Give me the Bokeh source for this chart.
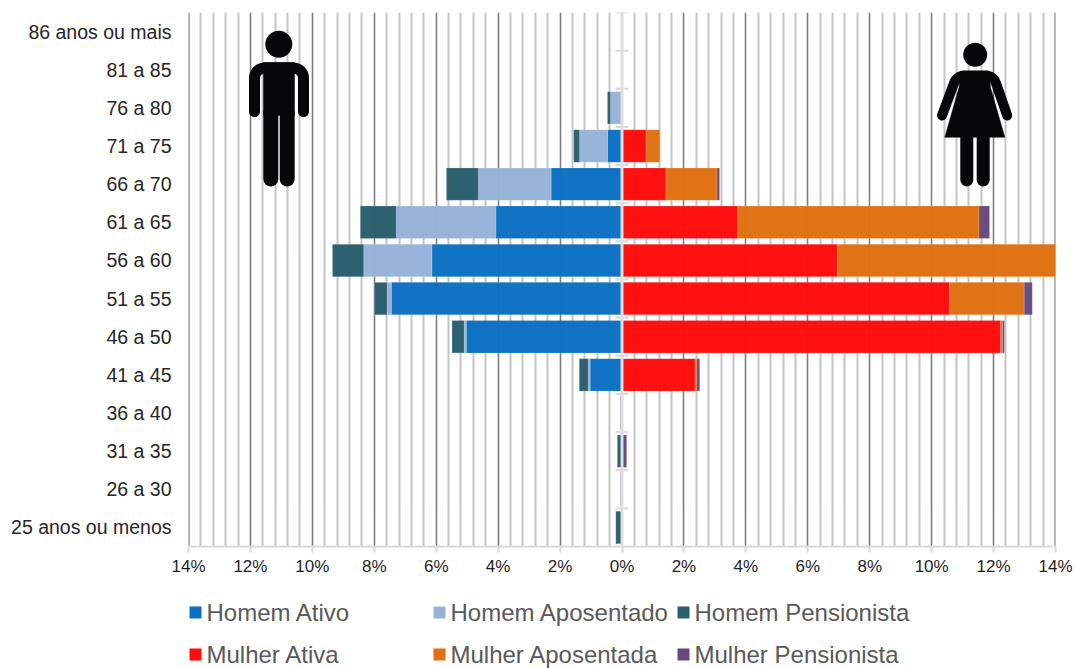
import math
from bokeh.plotting import figure
from bokeh.layouts import column
from bokeh.core.properties import value
from bokeh.models import FixedTicker, Range1d, ColumnDataSource, Span
from bokeh.embed import file_html
from bokeh.resources import INLINE

categories = ["25 anos ou menos", "26 a 30", "31 a 35", "36 a 40", "41 a 45", "46 a 50", "51 a 55",
              "56 a 60", "61 a 65", "66 a 70", "71 a 75", "76 a 80", "81 a 85", "86 anos ou mais"]
homem_ativo =       [0, 0, 0, 0, 1.03, 5.03, 7.45, 6.14, 4.07, 2.29, 0.47, 0, 0, 0]
homem_aposentado =  [0, 0, 0, 0, 0.06, 0.07, 0.14, 2.20, 3.22, 2.35, 0.90, 0.37, 0, 0]
homem_pensionista = [0.20, 0.05, 0.15, 0.05, 0.29, 0.39, 0.40, 1.01, 1.16, 1.03, 0.19, 0.10, 0, 0]
mulher_ativa =      [0, 0, 0, 0, 2.36, 12.23, 10.58, 6.96, 3.74, 1.42, 0.78, 0, 0, 0]
mulher_aposentada = [0, 0, 0, 0, 0.06, 0.06, 2.41, 7.05, 7.79, 1.65, 0.45, 0, 0, 0]
mulher_pensionista = [0, 0, 0.15, 0, 0.09, 0.06, 0.26, 0.03, 0.34, 0.08, 0, 0, 0, 0]
legend_labels = ["Homem Ativo", "Homem Aposentado", "Homem Pensionista",
                 "Mulher Ativa", "Mulher Aposentada", "Mulher Pensionista"]

colors = {"ha": "#0b70c2", "hp": "#97b3d8", "hn": "#2a5f6e", "ma": "#ff0c0c", "mp": "#e07012", "mn": "#66497f"}
FONT = "Liberation Sans"
W, H, SPLIT = 1075, 668, 584
X0, X1, Y0, Y1 = 188, 1055, 12, 546   # frame edges in page pixels
def dx(px): return (px - (X0 + X1) / 2) / ((X1 - X0) / 28)
def dy(py): return 14 - (py - Y0) / ((Y1 - Y0) / 14)

p = figure(width=W, height=SPLIT, output_backend="svg", toolbar_location=None,
           x_range=Range1d(-14, 14), y_range=Range1d(0, 14),
           min_border_left=X0, min_border_right=W - X1,
           min_border_top=Y0, min_border_bottom=SPLIT - Y1, outline_line_color=None)

# grid
major = [v for v in range(-14, 15, 2) if v != 0]
minor = [round(-14 + 0.4 * i, 1) for i in range(71) if (i % 5) != 0]
p.ygrid.visible = False
g = p.xgrid[0]
g.ticker = FixedTicker(ticks=major, minor_ticks=minor)
g.grid_line_color = "#7f7f7f"
g.grid_line_width = 1.6
g.minor_grid_line_color = "#c4c4c4"
g.minor_grid_line_width = 2
# the grid leaves out lines that fall on the range ends
for edge in (-14, 14):
    p.add_layout(Span(location=edge, dimension="height", line_color="#7f7f7f", line_width=2.2, level="underlay"))

# axes
xa = p.xaxis[0]
xa.ticker = FixedTicker(ticks=list(range(-14, 15, 2)))
xa.major_label_overrides = {v: f"{abs(v)}%" for v in range(-14, 15, 2)}
xa.axis_line_color = "#d9d9d9"
xa.axis_line_width = 2
xa.major_tick_line_color = "#d9d9d9"
xa.major_tick_line_width = 2
xa.major_tick_in = 0
xa.major_tick_out = 6
xa.minor_tick_line_color = None
xa.major_label_standoff = 4
xa.major_label_text_font = FONT
xa.major_label_text_font_size = "17px"
xa.major_label_text_color = "#1f1f1f"

ya = p.yaxis[0]
centers = [i + 0.5 for i in range(len(categories))]
ya.ticker = FixedTicker(ticks=centers)
ya.major_label_overrides = dict(zip(centers, categories))
ya.axis_line_color = None
ya.major_tick_line_color = None
ya.minor_tick_line_color = None
ya.major_tick_in = 0
ya.major_tick_out = 0
ya.major_label_standoff = 17
ya.major_label_text_font = FONT
ya.major_label_text_font_size = "19.5px"
ya.major_label_text_color = "#262626"

src = ColumnDataSource(dict(
    y=centers,
    ha=[-v for v in homem_ativo], hp=[-v for v in homem_aposentado], hn=[-v for v in homem_pensionista],
    ma=mulher_ativa, mp=mulher_aposentada, mn=mulher_pensionista))
kw = dict(y="y", height=0.85, source=src, fill_alpha=0.98, line_color="white", line_alpha=0.3, line_width=0.5)
men = p.hbar_stack(["ha", "hp", "hn"], color=None, fill_color=[colors[k] for k in ("ha", "hp", "hn")], **kw)
women = p.hbar_stack(["ma", "mp", "mn"], color=None, fill_color=[colors[k] for k in ("ma", "mp", "mn")], **kw)

# central axis and its band ticks
p.add_layout(Span(location=0, dimension="height", line_color="#dedede", line_width=3, level="overlay"))
edges = list(range(1, 15))
p.segment(x0=[dx(615)] * len(edges), x1=[dx(628)] * len(edges), y0=edges, y1=edges,
          line_color="#d9d9d9", line_width=2)

# silhouettes
INK = "#060708"
def stroke(pts, w):
    p.line([dx(a) for a, _ in pts], [dy(b) for _, b in pts], line_color=INK, line_width=w,
           line_cap="round", line_join="round")
def fill(pts):
    p.patch([dx(a) for a, _ in pts], [dy(b) for _, b in pts], fill_color=INK, line_color=INK, line_width=0.5)
def head(a, b, d):
    p.scatter([dx(a)], [dy(b)], size=d, marker="circle", fill_color=INK, line_color=None)
def arc(cx, cy, r, a0, a1, n=8):
    return [(cx + r * math.cos(math.radians(a0 + (a1 - a0) * i / n)),
             cy - r * math.sin(math.radians(a0 + (a1 - a0) * i / n))) for i in range(n + 1)]

head(278.3, 43.7, 27)
stroke([(254, 111)] + arc(264, 77.5, 10, 180, 90) + arc(293, 77.5, 10, 90, 0) + [(303, 111)], 11)
fill([(263, 62), (294, 62), (294, 115), (263, 115)])
stroke([(270.3, 113), (270.3, 178.5)], 15)
stroke([(286.7, 113), (286.7, 178.5)], 15)

head(974.7, 54.3, 24)
stroke([(941.5, 115), (953, 84)] + arc(964, 86, 11, 160, 90, 5) + arc(985, 86, 11, 90, 20, 5) + [(1006.7, 115)], 10)
fill([(960, 71), (989, 71), (990, 87), (1004.3, 136.7), (944.3, 136.7), (958.5, 87)])
stroke([(966.3, 134), (966.3, 179.5)], 13)
stroke([(982.7, 134), (982.7, 179.5)], 13)

# legend: its own strip below the chart, three columns of two rows.
# The strip's frame lines up with the chart's frame, so its x range spans the same pixels.
LH = H - SPLIT
q = figure(width=W, height=LH, output_backend="svg", toolbar_location=None,
           x_range=Range1d(X0, X1), y_range=Range1d(H, SPLIT),
           min_border_left=0, min_border_right=0, min_border_top=0, min_border_bottom=0,
           outline_line_color=None)
q.axis.visible = False
q.grid.visible = False
swatches = ["ha", "hp", "hn", "ma", "mp", "mn"]
col_x = [189, 433, 677]
row_y = [612, 654]
sx = [col_x[i % 3] for i in range(6)]
sy = [row_y[i // 3] for i in range(6)]
q.rect(x=[a + 6 for a in sx], y=sy, width=12, height=12, fill_color=[colors[k] for k in swatches], line_color=None)
q.text(x=[a + 17 for a in sx], y=sy, text=legend_labels, text_font=value(FONT), text_font_size="24px",
       text_color="#595959", text_baseline="middle", text_align="left")

page = column(p, q, spacing=0)
open("out.html", "w").write(file_html(page, INLINE))
